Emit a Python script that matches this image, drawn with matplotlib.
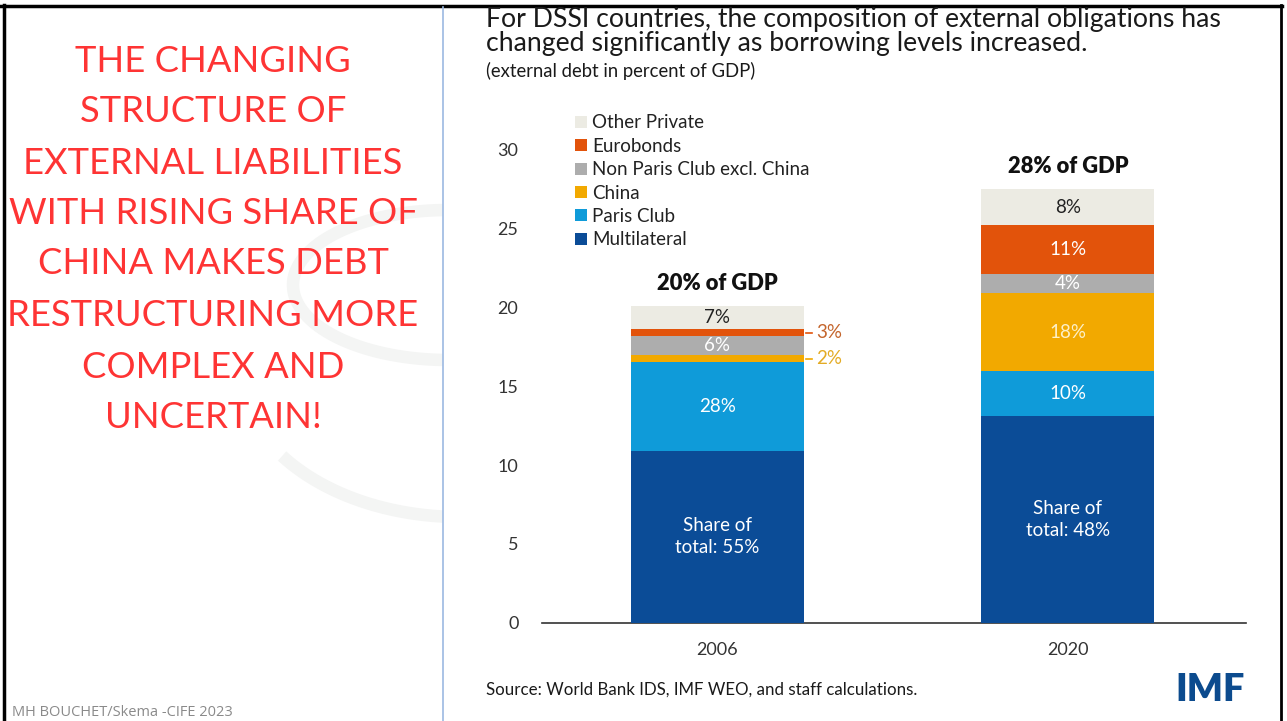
import numpy as np
import matplotlib
matplotlib.use("Agg")
import matplotlib.pyplot as plt
from matplotlib.patches import Rectangle

# ---------------- data ----------------
years = ["2006", "2020"]
categories = ["Multilateral", "Paris Club", "China", "Non Paris Club excl. China",
              "Eurobonds", "Other Private"]
multilateral = [10.9, 13.1]
paris_club = [5.6, 2.85]
china = [0.5, 4.95]
non_paris_club = [1.15, 1.2]
eurobonds = [0.5, 3.1]
other_private = [1.45, 2.3]

multilateral_lbl = ["Share of\ntotal: 55%", "Share of\ntotal: 48%"]
paris_club_lbl = ["28%", "10%"]
china_lbl = ["2%", "18%"]
non_paris_lbl = ["6%", "4%"]
eurobonds_lbl = ["3%", "11%"]
other_private_lbl = ["7%", "8%"]
total_lbl = ["20% of GDP", "28% of GDP"]
yticks = [0, 5, 10, 15, 20, 25, 30]

title_lines = ["For DSSI countries, the composition of external obligations has",
               "changed significantly as borrowing levels increased."]
subtitle = "(external debt in percent of GDP)"
source = "Source: World Bank IDS, IMF WEO, and staff calculations."
slide_lines = ["THE CHANGING", "STRUCTURE OF", "EXTERNAL LIABILITIES",
               "WITH RISING SHARE OF", "CHINA MAKES DEBT", "RESTRUCTURING MORE",
               "COMPLEX AND", "UNCERTAIN!"]
footer = "MH BOUCHET/Skema -CIFE 2023"

colors = ["#0b4c97", "#0f9bd9", "#f2a900", "#adadad", "#e2530b", "#ecebe3"]
text_colors = ["white", "white", "#fdf0c8", "white", "white", "#222222"]

W, H = 1287, 721
fig = plt.figure(figsize=(W / 100, H / 100), dpi=100)
fig.patch.set_facecolor("white")

bg = fig.add_axes([0, 0, 1, 1])
bg.set_xlim(0, W)
bg.set_ylim(H, 0)
bg.axis("off")

# decorative arcs on the slide
t = np.linspace(np.pi / 2, 3 * np.pi / 2, 200)
bg.plot(448 + 155 * np.cos(t), 285 + 75 * np.sin(t), color="#f4f5f4", lw=9,
        solid_capstyle="butt", zorder=1)
t2 = np.linspace(np.deg2rad(143.6), np.pi / 2, 200)
bg.plot(460 + 221 * np.cos(t2), 367 + 150 * np.sin(t2), color="#f4f5f4", lw=9,
        solid_capstyle="butt", zorder=1)
bg.add_patch(Rectangle((443, 0), W - 443, H, facecolor="white", edgecolor="none", zorder=2))

# slide borders
bg.plot([0, 1282], [5.5, 5.5], color="black", lw=2.5, zorder=5)
bg.plot([4, 4], [5, H], color="black", lw=2.5, zorder=5)
bg.plot([1281, 1281], [5, H], color="black", lw=2.0, zorder=5)
bg.plot([443, 443], [7, H], color="#9cb9e2", lw=1.2, zorder=5)

renderer = fig.canvas.get_renderer()

def fit_size(text, family, weight, target_px, base=20):
    tt = fig.text(0, 0, text, fontsize=base, family=family, weight=weight)
    w = tt.get_window_extent(renderer).width
    tt.remove()
    return base * target_px / w

# left slide title
red_size = fit_size("RESTRUCTURING MORE", "Lato", "normal", 409)
ys = [61, 111, 163, 214, 264, 316, 367, 418]
for line, y in zip(slide_lines, ys):
    bg.text(213, y, line, ha="center", va="center", fontsize=red_size,
            family="Lato", color="#fe3434", zorder=6)
fsize = fit_size(footer, "Open Sans", "normal", 221)
bg.text(12, 713, footer, ha="left", va="center", fontsize=fsize, family="Open Sans",
        color="#8a8a8a", zorder=6)

# chart title
tsize = fit_size(title_lines[0], "Lato", "normal", 736)
bg.text(486, 20, title_lines[0], ha="left", va="center", fontsize=tsize,
        family="Lato", color="#1a1a1a", zorder=6)
bg.text(486, 44, title_lines[1], ha="left", va="center", fontsize=tsize,
        family="Lato", color="#1a1a1a", zorder=6)
ssize = fit_size(subtitle, "Lato", "normal", 271)
bg.text(486, 71, subtitle, ha="left", va="center", fontsize=ssize,
        family="Lato", color="#1a1a1a", zorder=6)
srcsize = fit_size(source, "Lato", "normal", 430)
bg.text(486, 690, source, ha="left", va="center", fontsize=srcsize,
        family="Lato", color="#1a1a1a", zorder=6)
imfsize = fit_size("IMF", "Lato", "heavy", 70)
bg.text(1245, 690, "IMF", ha="right", va="center", fontsize=imfsize, family="Lato",
        weight="heavy", color="#0c4b8e", zorder=6)

# ---------------- chart ----------------
x0, x1, ybot, ytop = 542, 1246, 622.7, 149.6
ax = fig.add_axes([x0 / W, 1 - ybot / H, (x1 - x0) / W, (ybot - ytop) / H])
ax.set_facecolor("none")
ax.set_zorder(10)

series = [multilateral, paris_club, china, non_paris_club, eurobonds, other_private]
labels = [multilateral_lbl, paris_club_lbl, china_lbl, non_paris_lbl,
          eurobonds_lbl, other_private_lbl]
xpos = np.arange(len(years))
width = 0.494
lab_fs = 13.5
bottom = np.zeros(len(years))
handles = []
for name, vals, col, tcol, lbls in zip(categories, series, colors, text_colors, labels):
    vals = np.array(vals)
    b = ax.bar(xpos, vals, width, bottom=bottom, color=col, label=name, zorder=3)
    handles.append(b)
    for i in range(len(years)):
        mid = bottom[i] + vals[i] / 2
        if vals[i] < 0.8:  # thin segment: label outside on the right
            xe = xpos[i] + width / 2
            ax.plot([xe + 0.005, xe + 0.022], [mid, mid], color=col, lw=1.2,
                    clip_on=False, zorder=4)
            lc = "#c4652c" if name == "Eurobonds" else "#e3ab25"
            ax.text(xe + 0.035, mid, lbls[i], ha="left", va="center", fontsize=lab_fs,
                    family="Lato", color=lc)
        else:
            ax.text(xpos[i], mid, lbls[i], ha="center", va="center", fontsize=lab_fs,
                    family="Lato", color=tcol, linespacing=1.35, zorder=5)
    bottom = bottom + vals

tot_fs = fit_size(total_lbl[0], "Lato", "heavy", 121)
for i in range(len(years)):
    ax.text(xpos[i], bottom[i] + 1.4, total_lbl[i], ha="center", va="center",
            fontsize=tot_fs, family="Lato", weight="heavy", color="#111111", clip_on=False)

ax.set_xlim(-0.5, 1.508)
ax.set_ylim(0, 30)
ax.set_yticks(yticks)
ax.set_yticklabels([str(v) for v in yticks], family="Lato", fontsize=13, color="#333333")
ax.set_xticks(xpos)
ax.set_xticklabels(years, family="Lato", fontsize=13, color="#333333")
ax.tick_params(axis="y", length=0, pad=17)
ax.tick_params(axis="x", length=0, pad=14)
for s in ["top", "right", "left"]:
    ax.spines[s].set_visible(False)
ax.spines["bottom"].set_color("#333333")
ax.spines["bottom"].set_linewidth(1.2)

leg_fs = fit_size("Non Paris Club excl. China", "Lato", "normal", 217)
leg = ax.legend(handles=handles[::-1], labels=categories[::-1], loc="upper left",
                bbox_to_anchor=((568 - x0) / (x1 - x0), 1 + (ytop - 107) / (ybot - ytop)),
                frameon=False, handlelength=0.6, handleheight=0.6,
                handletextpad=0.3, labelspacing=0.34, borderaxespad=0,
                prop={"family": "Lato", "size": leg_fs})
for txt in leg.get_texts():
    txt.set_color("#222222")

fig.savefig("out.png", dpi=100, facecolor="white")
